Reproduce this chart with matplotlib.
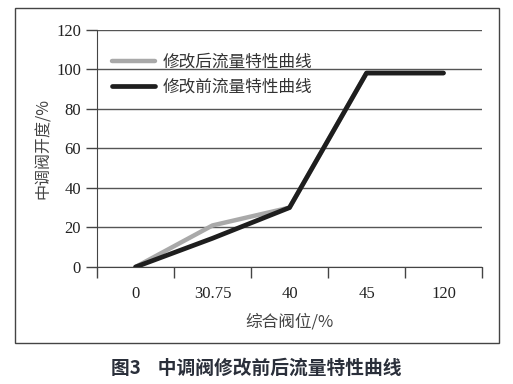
import matplotlib
matplotlib.use("Agg")
import matplotlib.pyplot as plt
from matplotlib.patches import Rectangle

plt.rcParams['font.family'] = ['Liberation Serif', 'Noto Sans CJK SC']

categories = ["0", "30.75", "40", "45", "120"]
after = [0, 21, 30, 98, 98]
before = [0, 14.5, 30, 98, 98]
after_name = "修改后流量特性曲线"
before_name = "修改前流量特性曲线"

fig = plt.figure(figsize=(5.13, 3.84), dpi=100)
W, H = 513, 384
ax = fig.add_axes([97 / W, 1 - 267 / H, 385 / W, (267 - 29.5) / H])

x = list(range(len(categories)))
ax.plot(x, after, color="#a9a9a9", lw=3.2, solid_capstyle="round", label=after_name, zorder=3)
ax.plot(x, before, color="#1e1e1e", lw=3.4, solid_capstyle="round", label=before_name, zorder=4)

ax.set_xlim(-0.5, len(categories) - 0.5)
ax.set_ylim(0, 120)
ax.set_yticks(range(0, 121, 20))
ax.set_xticks(x)
ax.set_xticklabels(categories)
ax.set_xticks([i - 0.5 for i in range(len(categories) + 1)], minor=True)
ax.tick_params(axis="x", which="major", length=0, pad=14, labelsize=12, colors="#222222")
ax.tick_params(axis="x", which="minor", length=8, width=1, color="#444444", direction="out")
ax.tick_params(axis="y", length=8, width=1, color="#444444", labelsize=12, labelcolor="#222222")
ax.yaxis.grid(True, color="#555555", lw=1)
ax.set_axisbelow(True)
for s in ["top", "right"]:
    ax.spines[s].set_visible(False)
ax.spines["left"].set_color("#444444")
ax.spines["bottom"].set_color("#444444")

cjk = ["Noto Sans CJK SC", "DejaVu Sans"]
ax.set_xlabel("综合阀位/%", fontsize=12, family=cjk, color="#444444", labelpad=8,
              fontweight="light")
ax.set_ylabel("中调阀开度/%", fontsize=11.5, family=cjk, color="#444444", labelpad=3,
              fontweight="light")

leg = ax.legend(loc="upper left", bbox_to_anchor=(0.0, 0.96), frameon=False,
                prop={"family": cjk, "size": 12, "weight": "light"}, handlelength=2.6,
                labelspacing=0.45, handletextpad=0.45)
for t in leg.get_texts():
    t.set_color("#333333")

fig.patches.append(Rectangle((15 / W, 1 - 343 / H), (499 - 15) / W, (343 - 8) / H,
                             transform=fig.transFigure, fill=False,
                             edgecolor="#444444", lw=1))

fig.text(0.5, 1 - 368 / H, "图3    中调阀修改前后流量特性曲线", ha="center", va="center",
         fontsize=13.5, fontweight="bold", family=cjk, color="#2a2f3a")

fig.savefig("out.png", dpi=100)
